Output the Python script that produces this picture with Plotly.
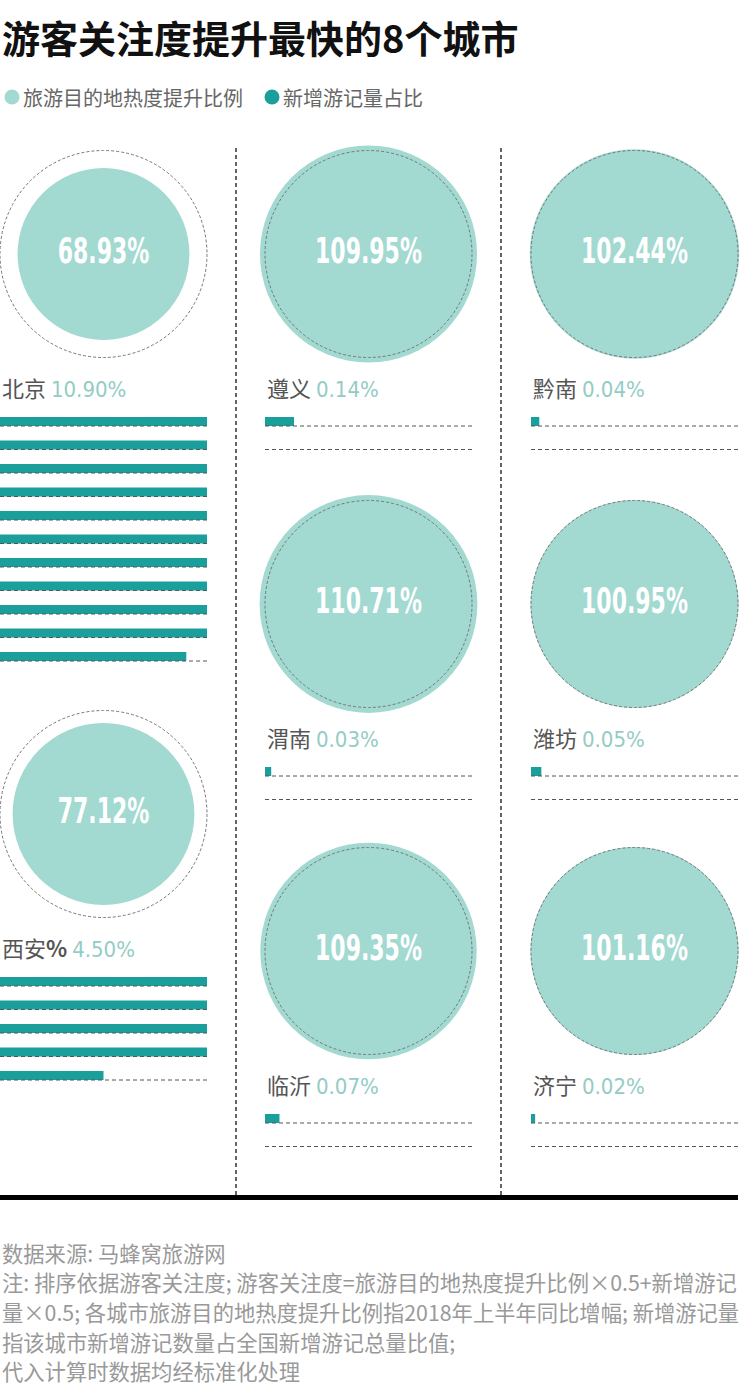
import math
import plotly.graph_objects as go

# ---------------- data ----------------
cities = ["北京", "西安", "遵义", "渭南", "临沂", "黔南", "潍坊", "济宁"]
heat_rise = [68.93, 77.12, 109.95, 110.71, 109.35, 102.44, 100.95, 101.16]   # 旅游目的地热度提升比例 (%)
new_share = [10.90, 4.50, 0.14, 0.03, 0.07, 0.04, 0.05, 0.02]               # 新增游记量占比 (%)
title_text = "游客关注度提升最快的8个城市"
legend_labels = ["旅游目的地热度提升比例", "新增游记量占比"]
footer_lines = [
    "数据来源: 马蜂窝旅游网",
    "注: 排序依据游客关注度; 游客关注度=旅游目的地热度提升比例×0.5+新增游记",
    "量×0.5; 各城市旅游目的地热度提升比例指2018年上半年同比增幅; 新增游记量",
    "指该城市新增游记数量占全国新增游记总量比值;",
    "代入计算时数据均经标准化处理",
]

# ---------------- layout constants ----------------
W, H = 740, 1386
COL_X0 = [0, 265, 531]          # left edge of each column block
BLOCK_W = 207                   # width of a full (1%) bar / reference circle diameter
REF_R = 103.5                   # radius of the 100% reference circle
# slot (column, circle centre y) for each city in order
slots = [(0, 254), (0, 814), (1, 254), (1, 604), (1, 951), (2, 254), (2, 604), (2, 951)]
LABEL_DY = 133
FIRST_ROW_DY = 39
ROW_STEP = 23.5
BAR_H = 9

CIRCLE_FILL = "#a2d9d1"
BAR_COLOR = "#1b9f9c"
NUM_COLOR = "#93ccc5"
DASH_COLOR = "#555555"
CJK = "Noto Sans CJK SC"
COND = "DejaVu Sans Condensed"

fig = go.Figure()
shapes = []
annotations = []

cx_list, cy_list, diam_list, txt_list = [], [], [], []
bar_y, bar_len, bar_base = [], [], []

for name, hv, sv, (col, cy) in zip(cities, heat_rise, new_share, slots):
    x0 = COL_X0[col]
    cx = x0 + BLOCK_W / 2
    cx_list.append(cx)
    cy_list.append(cy)
    diam_list.append(2 * REF_R * math.sqrt(hv / 100.0))
    txt_list.append(f"{hv:.2f}%")
    # reference dashed 100% circle
    shapes.append(dict(type="circle", xref="x", yref="y",
                       x0=cx - REF_R, x1=cx + REF_R, y0=cy - REF_R, y1=cy + REF_R,
                       line=dict(color="#777777", width=1, dash="3px,2px"),
                       layer="above"))
    # label
    ly = cy + LABEL_DY
    label_name = name + ("<b>%</b>" if name == "西安" else "")
    annotations.append(dict(
        x=x0, y=ly, xref="x", yref="y", xanchor="left", yanchor="middle",
        showarrow=False,
        text=f"{label_name} <span style='color:{NUM_COLOR};font-family:DejaVu Sans Condensed;font-size:22px'>{sv:.2f}%</span>",
        font=dict(family=CJK, size=22, color="#555555")))
    # bar rows: one row per whole percent, at least two rows
    n_rows = max(2, math.ceil(sv))
    for i in range(n_rows):
        row_y = ly + FIRST_ROW_DY + i * ROW_STEP
        frac = min(max(sv - i, 0.0), 1.0)
        if frac > 0:
            bar_y.append(row_y - BAR_H / 2)
            bar_len.append(frac * BLOCK_W)
            bar_base.append(x0)
        shapes.append(dict(type="line", xref="x", yref="y",
                           x0=x0, x1=x0 + BLOCK_W, y0=row_y, y1=row_y,
                           line=dict(color=DASH_COLOR, width=1, dash="4px,3px"),
                           layer="above"))

# circles
fig.add_trace(go.Scatter(
    x=cx_list, y=cy_list, mode="markers+text",
    marker=dict(size=diam_list, sizemode="diameter", color=CIRCLE_FILL, line=dict(width=0), opacity=1),
    text=txt_list, textposition="middle center",
    textfont=dict(family=COND, size=36, color="white", weight="bold"),
    hoverinfo="skip", showlegend=False))

# bars
fig.add_trace(go.Bar(
    orientation="h", y=bar_y, x=bar_len, base=bar_base, width=BAR_H,
    marker=dict(color=BAR_COLOR, line=dict(width=0)),
    hoverinfo="skip", showlegend=False))

# legend markers
leg_x = [12, 272]
fig.add_trace(go.Scatter(
    x=leg_x, y=[97, 97], mode="markers",
    marker=dict(size=15, color=[CIRCLE_FILL, BAR_COLOR]),
    hoverinfo="skip", showlegend=False))
for lx, lab in zip(leg_x, legend_labels):
    annotations.append(dict(x=lx + 9, y=97, xref="x", yref="y", xanchor="left", yanchor="middle",
                            showarrow=False, text=lab,
                            font=dict(family=CJK, size=20, color="#666666")))

# title
annotations.append(dict(x=0, y=36, xref="x", yref="y", xanchor="left", yanchor="middle",
                        showarrow=False, text=title_text,
                        font=dict(family=CJK, size=38, color="#111111", weight="bold")))

# vertical dashed separators
for vx in [236, 501]:
    shapes.append(dict(type="line", xref="x", yref="y", x0=vx, x1=vx, y0=148, y1=1195,
                       line=dict(color="#333333", width=1.5, dash="4px,3px"), layer="below"))
# thick black rule
shapes.append(dict(type="rect", xref="x", yref="y", x0=0, x1=738, y0=1195, y1=1200,
                   fillcolor="#000000", line=dict(width=0)))

# footer
for i, line in enumerate(footer_lines):
    annotations.append(dict(x=0, y=1252 + i * 29.7, xref="x", yref="y", xanchor="left", yanchor="middle",
                            showarrow=False, text=line,
                            font=dict(family=CJK, size=21.3, color="#999999")))

fig.update_layout(
    width=W, height=H, margin=dict(l=0, r=0, t=0, b=0),
    paper_bgcolor="white", plot_bgcolor="white",
    barmode="overlay",
    xaxis=dict(range=[0, W], visible=False, fixedrange=True),
    yaxis=dict(range=[H, 0], visible=False, fixedrange=True),
    shapes=shapes, annotations=annotations,
)

post = """
document.body.style.margin='0';
document.body.style.overflow='hidden';
var gd = document.getElementById('{plot_id}');
gd.querySelectorAll('.scatterlayer .textpoint text').forEach(function(t){
  try {
    var tr = t.getAttribute('transform') || '';
    var bb = t.getBBox();
    var cx = bb.x + bb.width/2, cy = bb.y + bb.height/2;
    t.setAttribute('transform', tr + ' translate(' + cx + ',' + cy + ') scale(0.68,1) translate(' + (-cx) + ',' + (-cy) + ')');
  } catch(e) {}
});
"""

fig.write_html("out.html", config={"displayModeBar": False}, post_script=post)
